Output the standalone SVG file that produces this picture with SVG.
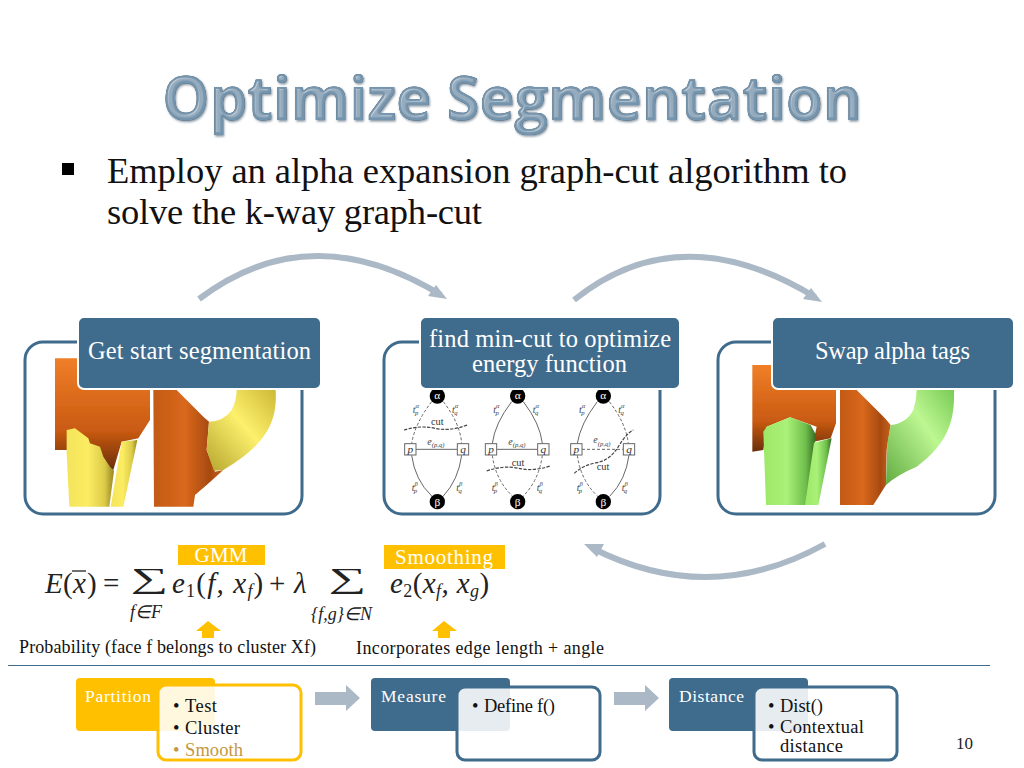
<svg xmlns="http://www.w3.org/2000/svg" width="1024" height="768" viewBox="0 0 1024 768">
<style>
text{font-family:"Liberation Serif","Times New Roman",serif}
.panel{fill:#fff;stroke:#3f6b8c;stroke-width:3}
.head{fill:#3f6b8c;stroke:#fff;stroke-width:2}
.ht{fill:#fff;font-size:24.500px;text-anchor:middle}
.curve{fill:none;stroke:#abb8c6;stroke-width:6}
.ah{fill:#abb8c6}
.body{font-size:36.500px;fill:#111}
.tag{fill:#ffc000}
.tagt{fill:#fff;font-size:21px;text-anchor:middle}
.math{font-size:29px;fill:#222;font-style:italic;letter-spacing:1.200px}
.mathr{font-size:29px;fill:#222}
.sub{font-size:18px;fill:#222;font-style:italic}
.sum{font-size:48px;fill:#222}
.cap{font-size:18px;fill:#111}
.blue{fill:#3f6b8c}.gold{fill:#ffc000}
.bx{fill:#fff;fill-opacity:.87;stroke-width:3}
.lab{fill:#fff;font-size:17.500px}
.li{fill:#111;font-size:18.500px}
.sm{font-size:30px;fill:#444;font-style:italic}
.smr{font-size:31px;fill:#333}
.gs{fill:none;stroke:#666;stroke-width:3}
.gd{fill:none;stroke:#666;stroke-width:3;stroke-dasharray:9 6}
.gc{fill:none;stroke:#444;stroke-width:3.500;stroke-dasharray:10 4}
.gb{fill:#fff;stroke:#666;stroke-width:3}
.gk{fill:#000}
.gw{fill:#fff;font-size:34px;text-anchor:middle}
.pi{font-size:34px;fill:#333;font-style:italic;text-anchor:middle}
.tl{font-size:30px;fill:#444;font-style:italic}
.ts{font-size:20px;fill:#444;font-style:italic}
</style>
<defs>
<linearGradient id="or" x1="0" y1="0" x2="0" y2="1"><stop offset="0" stop-color="#f07f28"/><stop offset=".65" stop-color="#c95a12"/><stop offset="1" stop-color="#6a2e08"/></linearGradient>
<linearGradient id="or2" x1="0" y1="0" x2="1" y2="0"><stop offset="0" stop-color="#c25a14"/><stop offset=".45" stop-color="#d9681c"/><stop offset=".8" stop-color="#a84a10"/><stop offset="1" stop-color="#c5601a"/></linearGradient>
<linearGradient id="ye" x1="0" y1="0" x2="1" y2="0"><stop offset="0" stop-color="#f4e45c"/><stop offset=".45" stop-color="#fbec62"/><stop offset=".8" stop-color="#dccb48"/><stop offset="1" stop-color="#958520"/></linearGradient>
<linearGradient id="ye2" x1="0" y1="1" x2="1" y2="0"><stop offset="0" stop-color="#b5a52f"/><stop offset=".55" stop-color="#fdf06c"/><stop offset="1" stop-color="#cdb935"/></linearGradient>
<linearGradient id="gr" x1="0" y1="0" x2="1" y2="0"><stop offset="0" stop-color="#9ee868"/><stop offset=".45" stop-color="#a9f178"/><stop offset=".8" stop-color="#6fbf4c"/><stop offset="1" stop-color="#356a22"/></linearGradient>
<linearGradient id="gr2" x1="0" y1="1" x2="1" y2="0"><stop offset="0" stop-color="#62ab42"/><stop offset=".6" stop-color="#bdf792"/><stop offset="1" stop-color="#79cb55"/></linearGradient>
<filter id="bevel" x="-5%" y="-20%" width="110%" height="140%">
<feGaussianBlur in="SourceAlpha" stdDeviation="1.200" result="b"/>
<feSpecularLighting in="b" surfaceScale="2.500" specularConstant=".45" specularExponent="22" lighting-color="#fff" result="s"><feDistantLight azimuth="225" elevation="55"/></feSpecularLighting>
<feComposite in="s" in2="SourceAlpha" operator="in" result="s2"/>
<feDropShadow in="SourceAlpha" dx="1" dy="1.500" stdDeviation=".8" flood-color="#4d6274" flood-opacity=".7" result="d"/>
<feMerge><feMergeNode in="d"/><feMergeNode in="SourceGraphic"/><feMergeNode in="s2"/></feMerge>
</filter>
<filter id="soft"><feGaussianBlur stdDeviation="1.300"/></filter>
</defs>
<rect width="1024" height="768" fill="#fff"/>

<g id="title"><text x="162" y="120" font-size="60" textLength="700" lengthAdjust="spacing" fill="#7595ae" filter="url(#bevel)" style="font-family:'Open Sans','Noto Sans',sans-serif;font-weight:700">Optimize Segmentation</text></g>

<g id="bullet-text">
<rect x="62" y="163" width="12" height="12" fill="#000"/>
<text class="body" x="107" y="183" textLength="740" lengthAdjust="spacing">Employ an alpha expansion graph-cut algorithm to</text>
<text class="body" x="107" y="224" textLength="375" lengthAdjust="spacing">solve the k-way graph-cut</text>
</g>

<g id="connectors">
<path class="curve" d="M199 299Q310 215 441 295"/><path class="ah" d="M447 299L428 296L436 285Z"/>
<path class="curve" d="M574 300Q680 215 815 297"/><path class="ah" d="M822 302L803 299L811 288Z"/>
<path class="curve" d="M825 544Q710 608 592 548"/><path class="ah" d="M584 544L604 544L597 557Z"/>
<path class="ah" d="M315 692H346V685L360 698L346 711V705H315Z"/>
<path class="ah" d="M614 692H645V685L659 698L645 711V705H614Z"/>
</g>

<g id="node-start">
<rect class="panel" x="25" y="342" width="277" height="172" rx="18"/>
<g transform="translate(10 310) scale(.33333)" filter="url(#soft)">
<path fill="url(#or)" d="M135 145H420V330L385 385L335 395L310 480L170 420L135 420Z"/>
<path fill="url(#ye)" d="M170 360L195 355L235 385L240 400L270 410L280 440L300 470L312 482L298 590H178L170 430Z"/>
<path fill="url(#ye)" d="M335 395L382 390L340 590H302Z"/>
<path fill="url(#or2)" d="M430 240H500L580 320L597 335L590 420L615 485L640 480L590 525L555 555L550 590H432Z"/>
<path fill="url(#ye2)" d="M680 240H797C802 330 775 400 640 480L612 482L590 420L597 335Q640 335 665 300Q680 270 680 240Z"/>
</g>
<rect class="head" x="78" y="317" width="243" height="72" rx="6"/>
<text class="ht" x="199.500" y="359" textLength="223" lengthAdjust="spacing">Get start segmentation</text>
</g>

<g id="node-mincut">
<rect class="panel" x="384" y="342" width="276" height="172" rx="18"/>
<g transform="translate(380 310) scale(.33333)">
<g id="g1">
<path class="gd" d="M155 275Q105 340 95 400M190 275Q240 340 245 400"/><path class="gs" d="M95 436Q105 510 155 558M245 436Q235 510 190 558M108 418H232"/>
<path class="gc" d="M72 360Q120 345 165 355T262 345"/>
<circle class="gk" cx="172" cy="258" r="23"/><circle class="gk" cx="172" cy="575" r="23"/>
<rect class="gb" x="74" y="401" width="34" height="34"/><rect class="gb" x="232" y="401" width="34" height="34"/>
<text class="gw" x="172" y="268">α</text><text class="gw" x="172" y="587">β</text>
<text class="pi" x="91" y="428">p</text><text class="pi" x="249" y="428">q</text>
<text class="smr" x="153" y="345">cut</text><text class="sm" x="142" y="404">e<tspan class="ts" dy="7">(p,q)</tspan></text>
<text class="tl" x="98" y="308">t<tspan class="ts" dy="-14">α</tspan><tspan class="ts" dx="-12" dy="20">p</tspan></text><text class="tl" x="216" y="308">t<tspan class="ts" dy="-14">α</tspan><tspan class="ts" dx="-12" dy="20">q</tspan></text>
<text class="tl" x="95" y="543">t<tspan class="ts" dy="-14">β</tspan><tspan class="ts" dx="-12" dy="20">p</tspan></text><text class="tl" x="229" y="543">t<tspan class="ts" dy="-14">β</tspan><tspan class="ts" dx="-12" dy="20">q</tspan></text>
</g>
<g id="g2">
<path class="gs" d="M395 275Q345 340 337 400M430 275Q480 340 487 400M350 418H472"/><path class="gd" d="M337 436Q347 510 397 558M487 436Q477 510 430 558"/>
<path class="gc" d="M320 483Q370 465 415 475T510 468"/>
<circle class="gk" cx="413" cy="258" r="23"/><circle class="gk" cx="413" cy="575" r="23"/>
<rect class="gb" x="316" y="401" width="34" height="34"/><rect class="gb" x="473" y="401" width="34" height="34"/>
<text class="gw" x="413" y="268">α</text><text class="gw" x="413" y="587">β</text>
<text class="pi" x="333" y="428">p</text><text class="pi" x="490" y="428">q</text>
<text class="smr" x="395" y="468">cut</text><text class="sm" x="385" y="404">e<tspan class="ts" dy="7">(p,q)</tspan></text>
<text class="tl" x="340" y="308">t<tspan class="ts" dy="-14">α</tspan><tspan class="ts" dx="-12" dy="20">p</tspan></text><text class="tl" x="458" y="308">t<tspan class="ts" dy="-14">α</tspan><tspan class="ts" dx="-12" dy="20">q</tspan></text>
<text class="tl" x="335" y="543">t<tspan class="ts" dy="-14">β</tspan><tspan class="ts" dx="-12" dy="20">p</tspan></text><text class="tl" x="470" y="543">t<tspan class="ts" dy="-14">β</tspan><tspan class="ts" dx="-12" dy="20">q</tspan></text>
</g>
<g id="g3">
<path class="gs" d="M652 275Q602 340 592 400M747 436Q737 510 690 558"/><path class="gd" d="M688 275Q738 340 745 400M592 436Q602 510 652 558M606 418H730"/>
<path class="gc" d="M583 490Q610 465 650 458T715 410T760 360"/>
<circle class="gk" cx="670" cy="258" r="23"/><circle class="gk" cx="670" cy="575" r="23"/>
<rect class="gb" x="572" y="401" width="34" height="34"/><rect class="gb" x="730" y="401" width="34" height="34"/>
<text class="gw" x="670" y="268">α</text><text class="gw" x="670" y="587">β</text>
<text class="pi" x="589" y="428">p</text><text class="pi" x="747" y="428">q</text>
<text class="smr" x="650" y="480">cut</text><text class="sm" x="640" y="400">e<tspan class="ts" dy="7">(p,q)</tspan></text>
<text class="tl" x="597" y="308">t<tspan class="ts" dy="-14">α</tspan><tspan class="ts" dx="-12" dy="20">p</tspan></text><text class="tl" x="715" y="308">t<tspan class="ts" dy="-14">α</tspan><tspan class="ts" dx="-12" dy="20">q</tspan></text>
<text class="tl" x="590" y="543">t<tspan class="ts" dy="-14">β</tspan><tspan class="ts" dx="-12" dy="20">p</tspan></text><text class="tl" x="725" y="543">t<tspan class="ts" dy="-14">β</tspan><tspan class="ts" dx="-12" dy="20">q</tspan></text>
</g>
</g>
<rect class="head" x="420" y="317" width="260" height="72" rx="6"/>
<text class="ht" x="550" y="347" textLength="242" lengthAdjust="spacing">find min-cut to optimize</text>
<text class="ht" x="549.500" y="372" textLength="155" lengthAdjust="spacing">energy function</text>
</g>

<g id="node-swap">
<rect class="panel" x="718" y="342" width="277" height="172" rx="18"/>
<g transform="translate(710 310) scale(.33333)" filter="url(#soft)">
<path fill="url(#or)" d="M127 165H378V340L362 385L310 395L320 350L240 322L170 350L160 420L127 425Z"/>
<path fill="url(#gr)" d="M160 365L170 350L240 322L302 345L318 375L290 585H168Z"/>
<path fill="url(#gr)" d="M312 398L365 385L325 585H285Z"/>
<path fill="url(#or2)" d="M390 240H440L525 325L542 345L530 420L528 525L490 585H390Z"/>
<path fill="url(#gr2)" d="M620 240H732C735 330 715 400 620 470Q560 495 528 525L532 400L542 345Q590 340 610 300Q620 270 620 240Z"/>
</g>
<rect class="head" x="772" y="317" width="242" height="72" rx="6"/>
<text class="ht" x="892.500" y="359" textLength="155" lengthAdjust="spacing">Swap alpha tags</text>
</g>

<g id="formula">
<rect class="tag" x="178" y="545" width="87" height="20"/>
<text class="tagt" x="221" y="562" textLength="53" lengthAdjust="spacing">GMM</text>
<rect class="tag" x="384" y="545" width="121" height="24"/>
<text class="tagt" x="444" y="564" textLength="98" lengthAdjust="spacing">Smoothing</text>
<text class="math" x="45" y="593">E</text><text class="mathr" x="63" y="593">(</text><text class="math" x="73" y="593">x</text><path d="M72 571H86" stroke="#222" stroke-width="1.300"/><text class="mathr" x="87" y="593">)</text><text class="mathr" x="103" y="593">=</text>
<text class="sum" transform="translate(131 588) scale(1.100 .6)">∑</text>
<text class="sub" x="130" y="618">f∈F</text>
<text class="math" x="172" y="593">e<tspan font-size="18" font-style="normal" dy="4">1</tspan><tspan font-style="normal" dy="-4">(</tspan>f, x<tspan font-size="18" dy="4">f</tspan><tspan font-style="normal" dy="-4">)</tspan></text>
<text class="mathr" x="269" y="593">+</text>
<text class="math" x="294" y="593">λ</text>
<text class="sum" transform="translate(329 588) scale(1.100 .6)">∑</text>
<text class="sub" x="311" y="620">{f,g}∈N</text>
<text class="math" x="390" y="593" style="letter-spacing:.4px">e<tspan font-size="18" font-style="normal" dy="4">2</tspan><tspan font-style="normal" dy="-4">(</tspan>x<tspan font-size="18" dy="4">f</tspan><tspan dy="-4">, x</tspan><tspan font-size="18" dy="4">g</tspan><tspan font-style="normal" dy="-4">)</tspan></text>
<path class="tag" d="M196 631L208 621L221 631H214V638H202V631Z"/>
<path class="tag" d="M432 631L444 621L457 631H450V638H438V631Z"/>
<text class="cap" x="19" y="653" textLength="297" lengthAdjust="spacing">Probability (face f belongs to cluster Xf)</text>
<text class="cap" x="356" y="654" textLength="248" lengthAdjust="spacing">Incorporates edge length + angle</text>
</g>

<path id="rule" d="M8 665.500H990" stroke="#3f6b8c" stroke-width="1.200"/>

<g id="node-partition">
<rect class="gold" x="76" y="678" width="139" height="53" rx="4"/>
<rect class="bx" x="158" y="685" width="143" height="75" rx="8" stroke="#ffc000"/>
<text class="lab" x="85" y="702" textLength="66" lengthAdjust="spacing">Partition</text>
<text class="li" x="173" y="712">•</text><text class="li" x="185" y="712" textLength="32" lengthAdjust="spacing">Test</text>
<text class="li" x="173" y="734">•</text><text class="li" x="185" y="734" textLength="55" lengthAdjust="spacing">Cluster</text>
<text class="li" x="173" y="756" style="fill:#c4973e">•</text><text class="li" x="185" y="756" textLength="58" lengthAdjust="spacing" style="fill:#c4973e">Smooth</text>
</g>

<g id="node-measure">
<rect class="blue" x="371" y="678" width="139" height="53" rx="4"/>
<rect class="bx" x="457" y="687" width="143" height="73" rx="8" stroke="#3f6b8c"/>
<text class="lab" x="381" y="702" textLength="65" lengthAdjust="spacing">Measure</text>
<text class="li" x="472" y="712">•</text><text class="li" x="484" y="712" textLength="71" lengthAdjust="spacing">Define f()</text>
</g>

<g id="node-distance">
<rect class="blue" x="669" y="678" width="139" height="53" rx="4"/>
<rect class="bx" x="754" y="687" width="143" height="73" rx="8" stroke="#3f6b8c"/>
<text class="lab" x="679" y="702" textLength="65" lengthAdjust="spacing">Distance</text>
<text class="li" x="768" y="712">•</text><text class="li" x="780" y="712" textLength="43" lengthAdjust="spacing">Dist()</text>
<text class="li" x="768" y="733">•</text><text class="li" x="780" y="733" textLength="84" lengthAdjust="spacing">Contextual</text>
<text class="li" x="780" y="752" textLength="63" lengthAdjust="spacing">distance</text>
</g>

<text id="page" x="956" y="749" font-size="17" fill="#222">10</text>
</svg>
